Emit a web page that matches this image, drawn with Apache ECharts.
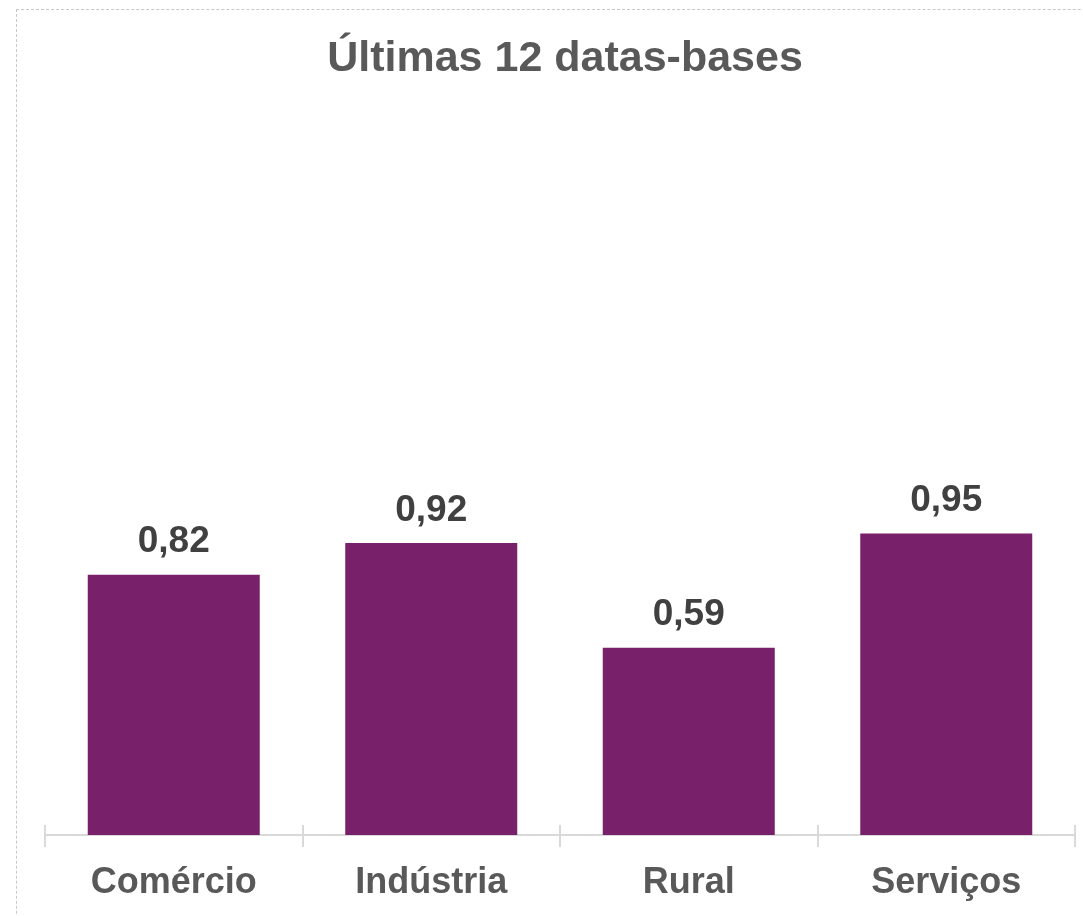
<!DOCTYPE html>
<html><head><meta charset="utf-8">
<script src="https://cdn.jsdelivr.net/npm/echarts@6/dist/echarts.min.js"></script>
<style>
html,body{margin:0;padding:0;background:#fff;overflow:hidden;}
#frame{position:absolute;left:16px;top:9px;width:1200px;height:1000px;border:1px dashed #c8c8c8;box-sizing:border-box;pointer-events:none;}
#chart{position:absolute;left:0;top:0;width:1083px;height:916px;}
</style></head>
<body>
<div id="chart"></div>
<div id="frame"></div>
<script>
const titleText = 'Últimas 12 datas-bases';
const categories = ['Comércio', 'Indústria', 'Rural', 'Serviços'];
const values = [0.82, 0.92, 0.59, 0.95];

const chart = echarts.init(document.getElementById('chart'));
const font = '"Liberation Sans", Arial, sans-serif';
chart.setOption({
  animation: false,
  title: {
    text: titleText, left: 560, top: 33, textAlign: 'center',
    textStyle: {fontFamily: font, fontSize: 43, fontWeight: 'bold', color: '#595959'}
  },
  grid: {left: 45, right: 8, top: 200, bottom: 81},
  xAxis: [{
    type: 'category', data: categories,
    axisLine: {show: true, lineStyle: {color: '#d9d9d9', width: 2}},
    axisTick: {show: true, length: 12, lineStyle: {color: '#d9d9d9', width: 2}},
    axisLabel: {margin: 30, fontFamily: font, fontSize: 36, fontWeight: 'bold', color: '#595959'}
  }, {
    type: 'category', data: categories, position: 'bottom',
    axisLine: {show: false},
    axisTick: {show: true, inside: true, length: 10, lineStyle: {color: '#d9d9d9', width: 2}},
    axisLabel: {show: false}
  }],
  yAxis: {type: 'value', min: 0, max: 2, show: false, splitLine: {show: false}},
  series: [{
    type: 'bar', data: values, barWidth: 172, xAxisIndex: 0,
    itemStyle: {color: '#79206B'},
    label: {
      show: true, position: 'top', distance: 14,
      formatter: p => p.value.toFixed(2).replace('.', ','),
      fontFamily: font, fontSize: 37, fontWeight: 'bold', color: '#404040'
    }
  }]
});
</script>
</body></html>
